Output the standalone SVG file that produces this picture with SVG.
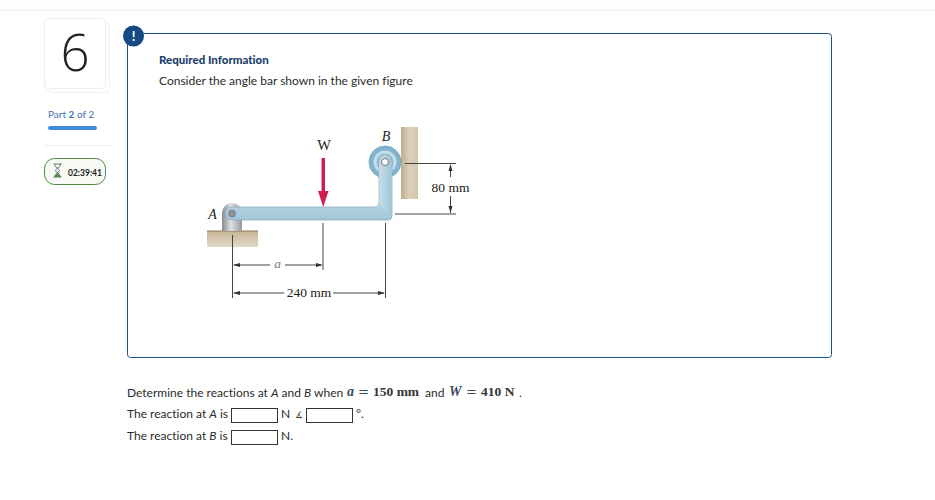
<svg xmlns="http://www.w3.org/2000/svg" width="935" height="500" viewBox="0 0 935 500">
<defs>
<linearGradient id="bar" x1="0" y1="0" x2="0" y2="1"><stop offset="0" stop-color="#a3c8da"/><stop offset=".4" stop-color="#d8e8f0"/><stop offset="1" stop-color="#a0c6d9"/></linearGradient>
<linearGradient id="vbar" x1="0" y1="0" x2="1" y2="0"><stop offset="0" stop-color="#c8dfe9"/><stop offset="1" stop-color="#9fc4d7"/></linearGradient>
<linearGradient id="tan" x1="0" y1="0" x2="1" y2="0"><stop offset="0" stop-color="#bfae8e"/><stop offset=".5" stop-color="#dcd0ba"/><stop offset="1" stop-color="#d2c5ac"/></linearGradient>
<linearGradient id="tan2" x1="0" y1="0" x2="0" y2="1"><stop offset="0" stop-color="#c6b595"/><stop offset="1" stop-color="#e2d9c8"/></linearGradient>
<linearGradient id="steel" x1="0" y1="0" x2="1" y2="0"><stop offset="0" stop-color="#858a8e"/><stop offset=".45" stop-color="#dfe2e4"/><stop offset="1" stop-color="#93979b"/></linearGradient>
</defs>
<style>
text{font-family:"Lato","Open Sans","Liberation Sans",sans-serif;fill:#2b2b2b;font-variant-ligatures:none}
.s{font-size:12px}
.m{font-family:"Liberation Serif",serif;font-size:13.500px;fill:#222}
.mb{font-family:"Liberation Serif",serif;font-size:13.500px;font-weight:bold;fill:#333}
.mi{font-family:"Liberation Serif",serif;font-size:14px;font-weight:bold;font-style:italic;fill:#3c4a5c}
.eq{font-family:"DejaVu Serif",serif;font-size:13px;fill:#3c4a5c}
.d{stroke:#444;stroke-width:1;fill:none}
.box{fill:#fff;stroke:#333;stroke-width:1}
</style>
<rect width="935" height="500" fill="#fff"/>
<rect x="0" y="0" width="935" height="10" fill="#fdfdfd"/>
<line x1="0" y1="10.500" x2="935" y2="10.500" stroke="#eeeeee"/>

<g id="question-number">
<rect x="47.500" y="21.500" width="62" height="71" rx="4" fill="#fff" stroke="#f0f0f0"/>
<rect x="44.500" y="18.500" width="61" height="70" rx="4" fill="#fff" stroke="#ececec"/>
<text x="75" y="71" text-anchor="middle" font-size="51" font-weight="300" style="fill:#222;font-family:'Open Sans','Liberation Sans',sans-serif">6</text>
</g>

<g id="part">
<text x="48" y="118" font-size="10" style="fill:#3c72b4">Part <tspan font-weight="bold">2</tspan> of 2</text>
<rect x="48" y="126" width="49" height="4" rx="2" fill="#3d8ad6"/>
<line x1="44" y1="145.500" x2="112" y2="145.500" stroke="#ececec"/>
</g>

<g id="timer">
<rect x="44.500" y="158.500" width="61" height="26" rx="10" fill="#f7f9f5" stroke="#4e8a3e" stroke-width="1"/>
<path d="M53.500 164h8M53.500 177h8M54.500 164c0 4 5 4.500 5 6.500s-5 2.500-5 6.500M60.500 164c0 4-5 4.500-5 6.500s5 2.500 5 6.500" fill="none" stroke="#5d7a6a" stroke-width="1"/>
<path d="M55 177c0-2.500 2.500-3.500 2.500-3.500s2.500 1 2.500 3.500z" fill="#4e8a3e"/>
<text x="68" y="175.500" font-size="8.500" font-weight="bold" style="fill:#222">02:39:41</text>
</g>

<g id="info-panel">
<rect x="127.500" y="33.500" width="704" height="324" rx="3" fill="#fff" stroke="#1c4f8a" stroke-width="1"/>
<circle cx="133.500" cy="36" r="10.500" fill="#164a85"/>
<text x="133.500" y="41" text-anchor="middle" font-size="13" font-weight="bold" style="fill:#fff">!</text>
<text x="159" y="64" font-size="11.500" font-weight="900" style="fill:#1d3f6e">Required Information</text>
<text x="159" y="85" class="s">Consider the angle bar shown in the given figure</text>
</g>

<g id="wall"><rect x="401" y="127" width="17" height="72" fill="url(#tan)"/></g>
<g id="ground"><rect x="207" y="231" width="51" height="16" fill="url(#tan2)"/><line x1="207" y1="231" x2="258" y2="231" stroke="#8a7a5c"/></g>
<g id="support-A"><path d="M222 231V213a10 10 0 0 1 20 0V231Z" fill="url(#steel)"/></g>
<g id="pulley-B">
<circle cx="385" cy="162" r="16" fill="#83b4cc" stroke="#6fa3bd" stroke-width=".8"/>
<circle cx="385" cy="162" r="11.500" fill="#c3dde9"/>
<circle cx="385" cy="162" r="8.500" fill="#93bdd2"/>
</g>
<g id="angle-bar">
<path d="M232 207H375q4 0 4-4V162a6.500 6.500 0 0 1 13 0V216q0 4-4 4H232a6.500 6.500 0 0 1 0-13Z" fill="url(#bar)" stroke="#7fa9bf" stroke-width=".7"/>
<path d="M379.500 203V162a5.500 6.500 0 0 1 12 0V216" fill="url(#vbar)" stroke="none"/>
<circle cx="232" cy="213.500" r="3.500" fill="#8b9296" stroke="#666" stroke-width=".5"/>
<circle cx="385" cy="162" r="3.500" fill="#fff" stroke="#555" stroke-width=".8"/>
</g>
<g id="load-W">
<text x="324" y="149.500" text-anchor="middle" class="m" style="font-size:14.500px">W</text>
<rect x="321.500" y="158" width="3.500" height="34" fill="#d11c52"/>
<path d="M318 191H328.500L323.200 207Z" fill="#d11c52"/>
</g>
<g id="labels">
<text x="212.500" y="219" text-anchor="middle" class="m" font-style="italic" style="font-size:14px">A</text>
<text x="386" y="141" text-anchor="middle" class="m" font-style="italic" style="font-size:14px">B</text>
</g>
<g id="connectors">
<path class="d" d="M405 163.500H456M395 214H456M232.500 235V298M323 223V270M385.500 223V298"/>
<path class="d" d="M450.500 165V177M450.500 196V213"/>
<path d="M450.500 164L452.500 171H448.500ZM450.500 213L452.500 206H448.500Z" fill="#333"/>
<path class="d" d="M234 265H270M285 265H321M234 293H284M333 293H384"/>
<path d="M233 265L240 263V267ZM323 265L316 263V267ZM233 293L240 291V295ZM385 293L378 291V295Z" fill="#333"/>
</g>
<g id="dim-labels">
<text x="450.500" y="192" text-anchor="middle" class="m">80 mm</text>
<text x="277.500" y="268" text-anchor="middle" class="m" font-style="italic" style="fill:#777">a</text>
<text x="309" y="297" text-anchor="middle" class="m">240 mm</text>
</g>

<g id="question">
<text x="127" y="397" class="s">Determine the reactions at <tspan font-style="italic">A</tspan> and <tspan font-style="italic">B</tspan> when</text>
<text x="347" y="396" class="mi">a</text>
<text x="358" y="396" class="eq">=</text>
<text x="373" y="396" class="mb">150 mm</text>
<text x="425" y="397" class="s">and</text>
<text x="449" y="396" class="mi">W</text>
<text x="466" y="396" class="eq">=</text>
<text x="481" y="396" class="mb">410 N</text>
<text x="519" y="397" class="s">.</text>
</g>
<g id="answer-A">
<text x="127" y="418" class="s">The reaction at <tspan font-style="italic">A</tspan> is</text>
<rect class="box" x="231.500" y="408.500" width="46" height="14"/>
<text x="281" y="418" class="s">N</text>
<text x="295" y="418" font-size="9" style="fill:#444;font-family:'DejaVu Sans',sans-serif">∡</text>
<rect class="box" x="306.500" y="408.500" width="46" height="14"/>
<text x="356" y="418" class="s">°.</text>
</g>
<g id="answer-B">
<text x="127" y="440" class="s">The reaction at <tspan font-style="italic">B</tspan> is</text>
<rect class="box" x="231.500" y="430.500" width="46" height="14"/>
<text x="281" y="440" class="s">N.</text>
</g>
</svg>
